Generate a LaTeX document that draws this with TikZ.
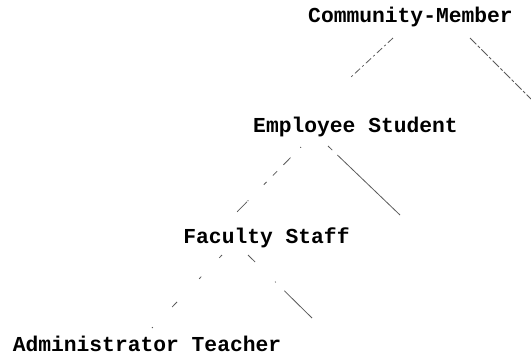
\documentclass[tikz,border=0pt]{standalone}
\usepackage{fontspec}
\setmonofont{Liberation Mono}
\begin{document}
\begin{tikzpicture}[x=1pt,y=-1pt,
  lbl/.style={font=\ttfamily\bfseries\fontsize{21.3}{22}\selectfont, inner sep=0pt, anchor=base},
  edge/.style={draw=black!65, line width=0.8pt}]
\useasboundingbox (0,0) rectangle (531,357);
\node[lbl] (cm) at (410.5,22) {Community-Member};
\node[lbl] (es) at (355.5,132) {Employee Student};
\node[lbl] (fs) at (266.5,243) {Faculty Staff};
\node[lbl] (at) at (147,351) {Administrator Teacher};
% edge endpoints
\coordinate (a1) at (393,38);  \coordinate (a2) at (350,78);
\coordinate (b1) at (470,38);  \coordinate (b2) at (531,99);
\coordinate (c1) at (301,147); \coordinate (c2) at (233,216);
\coordinate (d1) at (328,146); \coordinate (d2) at (400,215);
\coordinate (e1) at (222,255); \coordinate (e2) at (152,328);
\coordinate (f1) at (248,255); \coordinate (f2) at (312,318);
\draw[edge, dash pattern=on 7pt off 3pt on 2pt off 3pt] (a1) -- (a2);
\draw[edge, dash pattern=on 9pt off 2pt on 3pt off 2pt] (b1) -- (b2);
\draw[edge, dash pattern=on 1pt off 14pt on 10pt off 9pt on 6pt off 9pt on 4pt off 22pt on 1pt] (c1) -- (c2);
\draw[edge, dash pattern=on 6pt off 7pt on 100pt] (d1) -- (d2);
\draw[edge, dash pattern=on 4pt off 26pt on 3pt off 32pt on 7pt off 28pt on 2pt] (e1) -- (e2);
\draw[edge, dash pattern=on 10pt off 28pt on 1pt off 12pt on 40pt] (f1) -- (f2);
\end{tikzpicture}
\end{document}
